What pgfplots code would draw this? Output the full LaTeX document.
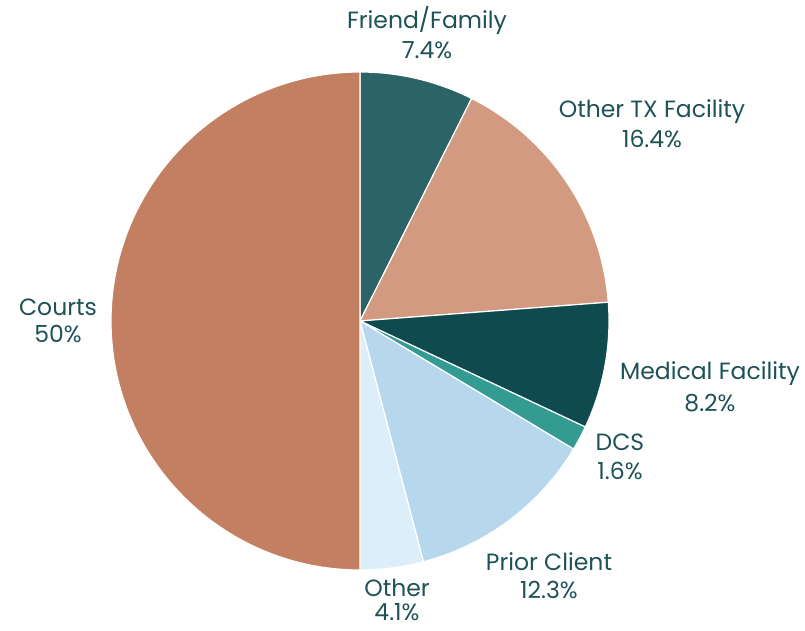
\documentclass[border=0pt]{standalone}
\usepackage{pgfplots}
\usepackage{pgfplotstable}
\pgfplotsset{compat=1.18}
\usepackage{fontspec}
\setmainfont{Poppins}

\definecolor{slice0}{HTML}{2B6366}
\definecolor{slice1}{HTML}{D29A80}
\definecolor{slice2}{HTML}{0F4A4F}
\definecolor{slice3}{HTML}{349B93}
\definecolor{slice4}{HTML}{B6D7EC}
\definecolor{slice5}{HTML}{DCEEF9}
\definecolor{slice6}{HTML}{C27F61}
\definecolor{labeltxt}{HTML}{1E5256}

% share of each source, clockwise from the top
\pgfplotstableread{
name share
FriendFamily 7.4
OtherTX 16.4
Medical 8.2
DCS 1.6
PriorClient 12.3
Other 4.1
Courts 50
}\piedata

\begin{document}
\begin{tikzpicture}[lbl/.style={font=\fontsize{23.5}{30}\selectfont, text=labeltxt, align=center, inner sep=0pt}]
\begin{axis}[
    x=1pt, y=1pt,
    xmin=0, xmax=805, ymin=0, ymax=630,
    hide axis, clip=false,
]
\path[use as bounding box] (axis cs:0,0) rectangle (axis cs:805,630);
\def\cum{0}
\pgfplotsforeachungrouped \i in {0,...,6}{
    \pgfplotstablegetelem{\i}{share}\of\piedata
    \let\v\pgfplotsretval
    \pgfmathsetmacro\a{90-3.6*\cum}
    \pgfmathsetmacro\b{90-3.6*(\cum+\v)}
    \edef\temp{\noexpand\fill[slice\i, draw=white, line width=1.2pt]
        (axis cs:360,309) -- ++(\a:249pt) arc[start angle=\a, end angle=\b, radius=249pt] -- cycle;}
    \temp
    \pgfmathsetmacro\cum{\cum+\v}
}
\node[lbl] at (axis cs:427,597) {Friend/Family\\7.4\%};
\node[lbl] at (axis cs:652,506) {Other TX Facility\\16.4\%};
\node[lbl] at (axis cs:710,243) {Medical Facility\\[2pt]8.2\%};
\node[lbl] at (axis cs:620,173) {DCS\\[-1pt]1.6\%};
\node[lbl] at (axis cs:549,54) {Prior Client\\[-2pt]12.3\%};
\node[lbl] at (axis cs:397,30) {Other\\[-6pt]4.1\%};
\node[lbl] at (axis cs:58,309) {Courts\\[-3pt]50\%};
\end{axis}
\end{tikzpicture}
\end{document}
